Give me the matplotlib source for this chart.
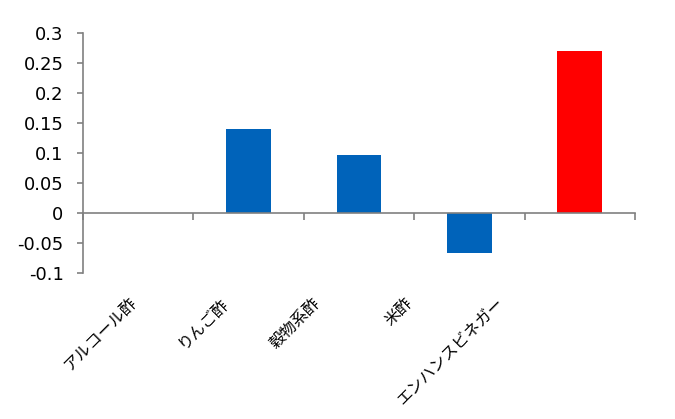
import matplotlib.pyplot as plt
import matplotlib.transforms as mtransforms
import numpy as np

categories = ["アルコール酢", "りんご酢", "穀物系酢", "米酢", "エンハンスビネガー"]
values = [0.0, 0.14, 0.097, -0.067, 0.27]
colors = ["#0063BA", "#0063BA", "#0063BA", "#0063BA", "#FF0000"]
yticks = [-0.1, -0.05, 0, 0.05, 0.1, 0.15, 0.2, 0.25, 0.3]
ytick_labels = ["-0.1", "-0.05", "0", "0.05", "0.1", "0.15", "0.2", "0.25", "0.3"]

axis_gray = "#808080"

fig = plt.figure(figsize=(6.75, 4.19), dpi=100)
ax = fig.add_axes([83 / 675, 1 - 273 / 419, 552 / 675, 240 / 419])

x = np.arange(len(categories))
ax.bar(x, values, width=0.405, color=colors)

ax.set_xlim(-0.5, len(categories) - 0.5)
ax.set_ylim(-0.1, 0.3)
ax.set_yticks(yticks)
ax.set_yticklabels(ytick_labels, fontsize=13, family="DejaVu Sans")

for side in ["top", "right"]:
    ax.spines[side].set_visible(False)
ax.spines["left"].set_color(axis_gray)
ax.spines["left"].set_linewidth(1.2)
ax.spines["bottom"].set_position(("data", 0))
ax.spines["bottom"].set_color(axis_gray)
ax.spines["bottom"].set_linewidth(1.2)

ax.tick_params(axis="y", direction="out", length=4, width=1.2,
               color=axis_gray, pad=10)

# category boundaries get the tick marks, labels are drawn separately
ax.set_xticks(np.arange(len(categories) + 1) - 0.5)
ax.set_xticklabels([])
ax.tick_params(axis="x", direction="out", length=5, width=1.2,
               color=axis_gray)

for i, name in enumerate(categories):
    offset = mtransforms.ScaledTranslation(-(10 + 18.5 * i) / 100, 0,
                                           fig.dpi_scale_trans)
    trans = mtransforms.blended_transform_factory(ax.transData, ax.transAxes)
    ax.text(i, -0.09, name, transform=trans + offset,
            rotation=45, rotation_mode="anchor", ha="right", va="top",
            fontsize=11.5, family=["Noto Sans CJK JP", "DejaVu Sans"])

fig.savefig("out.png", dpi=100)
